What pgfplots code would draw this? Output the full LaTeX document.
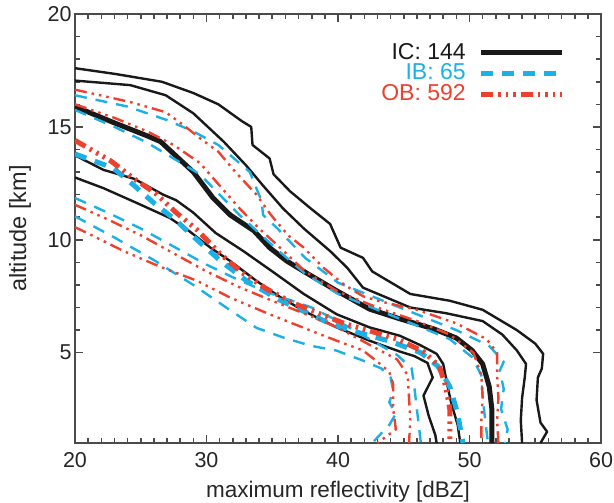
\documentclass[border=0pt]{standalone}
\usepackage{fontspec}
\setmainfont{Liberation Sans}
\usepackage{pgfplots}
\pgfplotsset{compat=1.18}
\definecolor{icblack}{RGB}{25,25,25}
\definecolor{ibcyan}{RGB}{27,176,230}
\definecolor{obred}{RGB}{238,64,46}
\definecolor{axgray}{RGB}{75,75,75}
\pgfplotsset{
  ic/.style={color=icblack, line width=2.4pt, solid, line join=round},
  icm/.style={color=icblack, line width=5pt, solid, line join=round},
  ib/.style={color=ibcyan, line width=2.4pt, dash pattern=on 12pt off 9pt, line join=round},
  ibm/.style={color=ibcyan, line width=5pt, dash pattern=on 12pt off 9pt, line join=round},
  ob/.style={color=obred, line width=2.4pt, dash pattern=on 12pt off 5pt on 2.5pt off 5pt on 2.5pt off 5pt on 2.5pt off 5pt, line join=round},
  obm/.style={color=obred, line width=5pt, dash pattern=on 12pt off 5pt on 2.5pt off 5pt on 2.5pt off 5pt on 2.5pt off 5pt, line join=round},
}
\begin{document}
\begin{tikzpicture}
\begin{axis}[
  name=ax, scale only axis, width=526pt, height=429pt,
  xmin=20, xmax=60, ymin=1, ymax=20,
  xtick={20,30,40,50,60}, ytick={5,10,15,20},
  minor x tick num=9, minor y tick num=4,
  tick align=inside, xtick pos=both, ytick pos=both,
  major tick length=8pt, minor tick length=5pt,
  tick style={color=axgray, line width=1.6pt},
  axis line style={draw=axgray, line width=1.8pt},
  tick label style={font=\fontsize{21.5}{25}\selectfont, text=black!85},
  xticklabel style={yshift=-6pt},
  /pgf/number format/assume math mode=true,
  xlabel={maximum reflectivity [dBZ]}, ylabel={altitude [km]},
  every axis x label/.style={at={(axis description cs:0.5,-0.1259)}, anchor=base, font=\fontsize{22.5}{26}\selectfont, text=black!85},
  every axis y label/.style={at={(axis description cs:-0.1046,0.5)}, rotate=90, anchor=center, font=\fontsize{23.5}{26}\selectfont, text=black!85},
  legend plot pos=right, legend cell align=right,
  legend style={at={(axis description cs:0.937,0.937)}, anchor=north east, draw=none, fill=none,
    font=\fontsize{23}{20}\selectfont, row sep=1.2pt, column sep=11pt,
    nodes={inner ysep=0pt, text height=16pt, text depth=3.5pt}},
  legend image code/.code={\draw[#1] (0pt,0pt) -- (81pt,0pt);},
]
% ---------- IC (black) ----------
\addplot[ic, forget plot] coordinates {(20,17.6) (23,17.35) (26.6,17.0) (29,16.5) (30.9,16.0) (32.7,15.25) (33.4,15.0) (33.5,14.2) (34.8,13.6) (35.1,12.9) (36.35,12.15) (37.9,11.4) (39.4,10.7) (40.2,9.65) (41.9,9.2) (42.6,8.6) (45.5,7.6) (48.5,7.3) (51,6.9) (53.6,6.0) (55.0,5.4) (55.6,4.95) (55.5,4.3) (55.2,3.9) (55.1,2.9) (55.4,1.9) (55.9,1.5) (55.4,1.0)};
\addplot[ic, forget plot] coordinates {(20,17.05) (24.2,16.85) (26.9,16.4) (29.0,15.6) (31.3,14.35) (33.0,13.3) (34.3,12.4) (35.8,11.4) (37.4,10.5) (39.4,9.5) (40.7,8.76) (41.9,7.88) (45.5,7.0) (48.2,6.75) (51.0,6.4) (52.5,5.8) (53.6,5.1) (54.3,4.5) (54.2,3.9) (54.0,3.0) (53.9,2.0) (54.0,1.0)};
\addplot[ic, forget plot] coordinates {(20,13.74) (22.15,13.1) (24.5,12.7) (26.7,12.0) (27.7,11.75) (29,11.2) (30.7,10.3) (32.8,9.5) (35,8.6) (37.4,7.6) (39.9,6.7) (42.4,6.12) (44.7,5.75) (46.2,5.35) (47.5,4.95) (48.0,4.5) (48.3,3.6) (48.6,2.8) (49.1,1.8) (49.3,1.0)};
\addplot[ic, forget plot] coordinates {(20,12.76) (22.15,12.29) (24.7,11.63) (27.2,10.97) (28.7,10.38) (30.3,9.65) (31.8,9.06) (33.8,8.18) (35.5,7.5) (37.4,6.85) (39.9,6.12) (42.4,5.53) (44.7,5.05) (45.8,4.85) (46.8,4.55) (47.2,3.9) (46.5,3.1) (46.9,2.2) (47.4,1.35) (47.5,1.0)};
\addplot[icm] coordinates {(20,15.9) (22.9,15.2) (25.5,14.6) (26.5,14.35) (29.0,13.0) (30.5,11.85) (31.8,11.1) (33.6,10.4) (34.8,9.65) (36.1,9.06) (37.4,8.6) (39.9,7.74) (42.4,6.93) (44.7,6.5) (47.3,6.05) (49.0,5.65) (50.2,5.1) (51.0,4.5) (51.5,3.5) (51.7,2.5) (51.7,1.0)};
\addlegendentry{\textcolor{icblack}{IC: 144}}
% ---------- IB (cyan) ----------
\addplot[ib, forget plot] coordinates {(20,16.4) (24,15.9) (27,15.3) (29,14.8) (30.9,14.2) (33.3,13.0) (34.2,11.7) (34.3,11.1) (35.4,10.5) (37.5,9.2) (40,8.1) (43,7.4) (46,6.7) (49,6.0) (51.5,5.3) (52.6,4.6) (52.3,4.2) (52.6,3.4) (52.4,2.5) (52.9,1.6) (52.7,1.0)};
\addplot[ib, forget plot] coordinates {(20,15.75) (23,15.0) (25.5,14.3) (27.5,13.6) (29.5,12.9) (31,12.0) (32.5,11.1) (34,10.3) (35.5,9.5) (37.5,8.5) (40,7.6) (43,6.9) (46,6.2) (48.5,5.6) (50.2,4.8) (50.9,4.0) (51.0,3.0) (51.2,2.0) (51.4,1.0)};
\addplot[ib, forget plot] coordinates {(20,11.85) (22.5,11.2) (25,10.5) (27.5,9.7) (30,8.9) (32.5,8.2) (35,7.6) (38,7.0) (40,6.4) (42.4,5.6) (44.5,4.9) (45.6,4.3) (45.8,3.5) (46.0,2.5) (46.3,1.0)};
\addplot[ib, forget plot] coordinates {(20,11.04) (23,10.1) (26,9.1) (29,8.0) (31.5,7.0) (33.8,6.1) (35.8,5.68) (37.9,5.31) (39.9,5.09) (41.9,4.65) (43.3,4.3) (44.0,3.9) (44.2,3.3) (43.9,2.8) (44.4,2.3) (43.9,1.8) (42.6,1.0)};
\addplot[ibm] coordinates {(20,13.8) (22.9,13.18) (24.5,12.4) (26.0,11.63) (27.6,10.9) (29.1,10.09) (31,9.1) (33,8.2) (35.5,7.35) (37.7,6.75) (39.5,6.26) (41.5,5.9) (44,5.5) (46.3,5.0) (47.6,4.4) (48.5,3.5) (49.1,2.3) (49.5,1.0)};
\addlegendentry{\textcolor{ibcyan}{IB: 65}}
% ---------- OB (red) ----------
\addplot[ob, forget plot] coordinates {(20,16.65) (24.2,16.1) (26.9,15.65) (28.2,15.1) (29.5,14.5) (30.9,13.9) (32.2,13.0) (33.8,12.0) (34.9,11.1) (36.2,10.2) (37.4,9.65) (38.9,8.76) (40.5,8.0) (41.9,7.5) (43,7.3) (46,6.9) (49,6.3) (51.3,5.6) (52.1,5.0) (52.1,4.0) (52.2,3.0) (52.1,2.0) (52.2,1.0)};
\addplot[ob, forget plot] coordinates {(20,16.0) (23,15.4) (25.5,14.8) (27.5,14.2) (29.5,13.4) (31,12.4) (32.5,11.4) (34,10.5) (35.5,9.7) (37.5,8.6) (40,7.7) (43,7.0) (46,6.4) (48.5,5.8) (50.3,5.0) (50.9,4.0) (51.0,3.0) (50.9,2.0) (50.9,1.0)};
\addplot[ob, forget plot] coordinates {(20,11.55) (22.5,10.9) (25,10.2) (27.5,9.4) (30,8.6) (32.5,7.9) (35,7.3) (38,6.6) (40,6.1) (42.4,5.35) (44.5,4.7) (45.3,4.0) (45.4,3.0) (45.5,2.0) (45.4,1.0)};
\addplot[ob, forget plot] coordinates {(20,10.56) (21.1,10.25) (23.7,9.5) (26.5,8.8) (29.3,8.18) (31.8,7.44) (34.8,6.7) (37.4,6.1) (39.9,5.53) (41.9,5.1) (43.2,4.5) (43.9,4.15) (44.2,3.6) (44.2,2.5) (44.4,1.6) (43.0,1.0)};
\addplot[obm] coordinates {(20,14.4) (22.7,13.5) (24.5,12.7) (26.1,12.07) (27.7,11.2) (29.25,10.46) (31,9.4) (32.7,8.54) (34.5,7.85) (36.5,7.22) (38.5,6.75) (40.5,6.29) (42.5,5.95) (44.5,5.6) (46.5,5.05) (47.7,4.4) (48.2,3.5) (48.5,2.5) (48.5,1.0)};
\addlegendentry{\textcolor{obred}{OB: 592}}
\end{axis}
\pgfresetboundingbox
\path ([shift={(-75pt,-59pt)}]ax.south west) rectangle ([shift={(13pt,14pt)}]ax.north east);
\end{tikzpicture}
\end{document}
